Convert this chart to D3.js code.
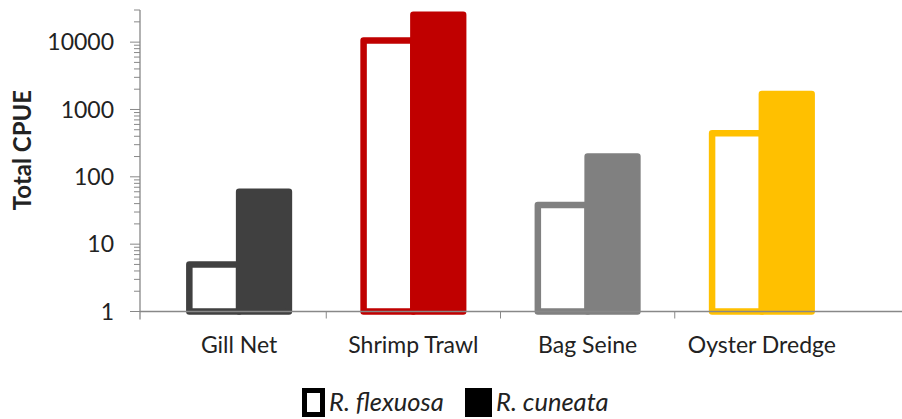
<!DOCTYPE html>
<html>
<head>
<meta charset="utf-8">
<script src="https://cdn.jsdelivr.net/npm/d3@7"></script>
<style>
  html, body { margin: 0; padding: 0; background: #fff; }
  svg { display: block; }
  text { font-family: Lato, "Open Sans", sans-serif; fill: #222; }
</style>
</head>
<body>
<svg id="chart" width="902" height="419"></svg>
<script>
// ---- data ----
const categories = ["Gill Net", "Shrimp Trawl", "Bag Seine", "Oyster Dredge"];
const series = ["R. flexuosa", "R. cuneata"];
const flexuosa = [5, 10600, 38, 445];
const cuneata = [60, 25500, 200, 1700];
const categoryColors = ["#404040", "#C00000", "#808080", "#FFC000"];
const yTickValues = [1, 10, 100, 1000, 10000];
const yTickLabels = ["1", "10", "100", "1000", "10000"];

// ---- layout ----
const svg = d3.select("#chart");
const axisColor = "#888888";
const yBottom = 311.5, yTop = 10;
const xLeft = 140, xRight = 902;

const y = d3.scaleLog().domain([1, 30000]).range([yBottom, yTop]);
const x0 = d3.scaleBand().domain(categories).range([152, 849]).paddingInner(0).paddingOuter(0);
const x1 = d3.scaleBand().domain(series).range([0, x0.bandwidth()]).paddingInner(0).paddingOuter(0.75);

// minor ticks
const minorTicks = [];
for (let d = 1; d <= 10000; d *= 10) {
  for (let m = 2; m <= 9; m++) {
    const v = d * m;
    if (v <= 30000) minorTicks.push(v);
  }
}
const gY = svg.append("g");
gY.selectAll("line.minor").data(minorTicks).join("line")
  .attr("x1", xLeft - 6).attr("x2", xLeft)
  .attr("y1", d => y(d)).attr("y2", d => y(d))
  .attr("stroke", axisColor).attr("stroke-width", 1);
gY.selectAll("line.major").data(yTickValues).join("line")
  .attr("x1", xLeft - 10).attr("x2", xLeft)
  .attr("y1", d => y(d)).attr("y2", d => y(d))
  .attr("stroke", axisColor).attr("stroke-width", 1);
gY.selectAll("text").data(yTickValues).join("text")
  .attr("x", 114).attr("y", d => y(d))
  .attr("dy", "0.36em")
  .attr("text-anchor", "end")
  .style("font-size", "23px")
  .text((d, i) => yTickLabels[i]);
gY.append("line")
  .attr("x1", xLeft).attr("x2", xLeft)
  .attr("y1", yTop).attr("y2", yBottom + 8)
  .attr("stroke", axisColor).attr("stroke-width", 1.3);

// y title
svg.append("text")
  .attr("transform", "translate(31,150) rotate(-90)")
  .attr("text-anchor", "middle")
  .style("font-size", "24px").style("font-weight", "bold")
  .text("Total CPUE");

// bars: outlined (flexuosa) first, filled (cuneata) on top
const gBars = svg.append("g");
const barStroke = 6.5;
categories.forEach((c, i) => {
  const col = categoryColors[i];
  gBars.append("rect")
    .attr("x", x0(c) + x1(series[0]))
    .attr("width", x1.bandwidth())
    .attr("y", y(flexuosa[i]))
    .attr("height", y(1) - y(flexuosa[i]))
    .attr("fill", "#fff")
    .attr("stroke", col).attr("stroke-width", barStroke)
    .attr("stroke-linejoin", "round");
  gBars.append("rect")
    .attr("x", x0(c) + x1(series[1]))
    .attr("width", x1.bandwidth())
    .attr("y", y(cuneata[i]))
    .attr("height", y(1) - y(cuneata[i]))
    .attr("fill", col)
    .attr("stroke", col).attr("stroke-width", barStroke)
    .attr("stroke-linejoin", "round");
});

// x axis
const gX = svg.append("g");
gX.append("line")
  .attr("x1", xLeft).attr("x2", xRight)
  .attr("y1", yBottom).attr("y2", yBottom)
  .attr("stroke", axisColor).attr("stroke-width", 1.3);
gX.selectAll("line.tick").data(categories.slice(1)).join("line")
  .attr("x1", d => x0(d)).attr("x2", d => x0(d))
  .attr("y1", yBottom).attr("y2", yBottom + 7)
  .attr("stroke", axisColor).attr("stroke-width", 1);
gX.selectAll("text").data(categories).join("text")
  .attr("x", d => x0(d) + x0.bandwidth() / 2)
  .attr("y", 353)
  .attr("text-anchor", "middle")
  .style("font-size", "23px")
  .text(d => d);

// legend
const gL = svg.append("g");
gL.append("rect").attr("x", 304.5).attr("y", 390.5).attr("width", 18).attr("height", 24)
  .attr("fill", "#fff").attr("stroke", "#000").attr("stroke-width", 5);
gL.append("text").attr("x", 329).attr("y", 411)
  .style("font-size", "25.5px").style("font-style", "italic").text(series[0]);
gL.append("rect").attr("x", 465).attr("y", 388).attr("width", 27).attr("height", 29)
  .attr("fill", "#000");
gL.append("text").attr("x", 496).attr("y", 411)
  .style("font-size", "25.5px").style("font-style", "italic").text(series[1]);
</script>
</body>
</html>
